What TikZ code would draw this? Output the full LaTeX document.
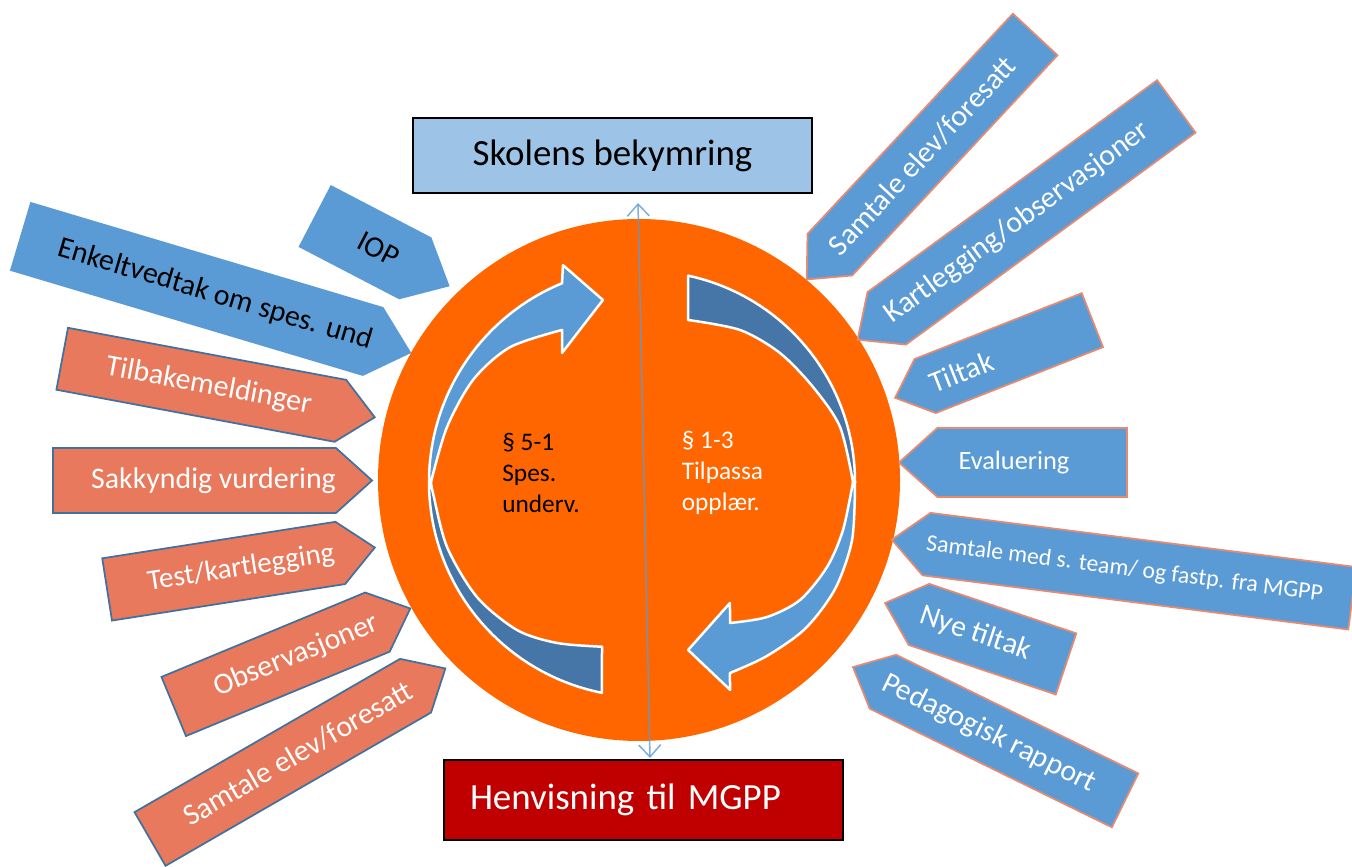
\documentclass[tikz,border=0pt]{standalone}
\usepackage{fontspec}
\setmainfont{Carlito}
\usetikzlibrary{arrows.meta,positioning,calc,shapes.symbols}
\definecolor{ringorange}{HTML}{FF6600}
\definecolor{lightblue}{HTML}{5B9BD5}
\definecolor{darkblue}{HTML}{4675A8}
\definecolor{edgeblue}{HTML}{41719C}
\definecolor{salmon}{HTML}{E8795D}
\definecolor{salmonline}{HTML}{E58B74}
\definecolor{skyfill}{HTML}{9DC3E6}
\definecolor{redfill}{HTML}{C00000}

\begin{document}
\begin{tikzpicture}[x=0.2mm,y=0.2mm,>={Straight Barb[length=2.4mm,width=4.4mm]},
  tag/.style={shape=signal,signal pointer angle=84,inner sep=0pt,line width=0.35mm,font=\fontsize{17}{20}\selectfont},
  lefttag/.style={tag,signal to=east,fill=salmon,draw=edgeblue,text=white},
  bluetag/.style={tag,signal to=east,fill=lightblue,draw=lightblue,text=black},
  righttag/.style={tag,signal to=west,fill=lightblue,draw=salmonline,text=white},
  headbox/.style={draw=black,line width=0.5mm,minimum width=79.8mm,minimum height=15mm,font=\fontsize{21}{25}\selectfont},
  ringtext/.style={align=left,font=\fontsize{14.4}{17.5}\selectfont}]
\useasboundingbox (0,0) rectangle (1352,867);

\node[circle,fill=ringorange,minimum size=104.4mm,inner sep=0pt] (ring) at (639,387) {};
\node[headbox,fill=skyfill] (worry) at (612.5,711.5) {Skolens bekymring};
\node[headbox,fill=redfill,text=white,minimum height=16mm,text width=69.4mm,inner xsep=5mm,align=left] (refer) at (643.5,67) {Henvisning til MGPP};

\coordinate (up) at (638,664);
\coordinate (down) at (650,109);
\draw[<->,draw=lightblue,draw opacity=0.8,line width=0.3mm] (up) -- (down);

\begin{scope}[shift={(644,385)},draw=white,line width=0.5mm,line join=round]
\filldraw[fill=lightblue] (118.3:172.7) -- (122.4:152.9) -- (102.7:186.6) -- (110.5:231.6) -- (112.4:215)
  arc[start angle=112.4,end angle=180,radius=215]
  -- plot[smooth] coordinates {(180:213) (164.4:204.5) (149:199) (134.8:190) (118.3:172.7)} -- cycle;
\filldraw[fill=darkblue] (180:215) arc[start angle=180,end angle=258.7,radius=215] -- (255.7:170)
  -- plot[smooth] coordinates {(255.7:170) (241.6:183) (229.4:195) (214.6:202.8) (198.3:207.4) (183:211.3) (180:213)} -- cycle;
\filldraw[fill=darkblue] (77.9:211) arc[start angle=77.9,end angle=0,radius=211]
  -- plot[smooth] coordinates {(0:209) (15.7:203.6) (29.3:193.9) (43.5:187.4) (57.7:179.8) (74.8:167.9)} -- cycle;
\filldraw[fill=lightblue] plot[smooth] coordinates {(0:211) (-15.5:216) (-29.2:219) (-42.2:218) (-54.9:213) (-65.8:209.5)}
  -- (-67.5:225) -- (-75.3:173.7) -- (-54.6:148.4) -- (-58.6:165.2)
  -- plot[smooth] coordinates {(-58.6:165.2) (-47.7:182.6) (-37.1:195.6) (-24.9:201.8) (-13.6:204.7) (0:209)} -- cycle;
\end{scope}

\node[ringtext] (spes) at (541,394) {§ 5-1\\Spes.\\underv.};
\node[ringtext,text=white] (tilpassa) at (722.5,394) {§ 1-3\\Tilpassa\\opplær.};

\node[bluetag,rotate=-27.5,minimum width=30mm,minimum height=13.6mm] (iop) at (365.2,624.7) {\hspace*{6mm}IOP};
\node[bluetag,rotate=-16.6,minimum width=81.2mm,minimum height=14mm] (vedtak) at (196.9,578) {\hspace*{7.8mm}Enkeltvedtak om spes. und};
\node[lefttag,rotate=-10.6,minimum width=63.6mm,minimum height=12.6mm] (tilbake) at (201.3,482.2) {\hspace*{3mm}Tilbakemeldinger};
\node[lefttag,minimum width=63.8mm,minimum height=13mm] (sakkyndig) at (194.5,386.5) {\hspace*{7.6mm}Sakkyndig vurdering};
\node[lefttag,rotate=8.9,minimum width=54.2mm,minimum height=12.6mm,font=\fontsize{16.5}{20}\selectfont] (test) at (223.7,295.8) {\hspace*{7mm}Test/kartlegging};
\node[lefttag,rotate=22.5,minimum width=48mm,minimum height=12.8mm] (obs) at (275.6,202.7) {\hspace*{9mm}Observasjoner};
\node[lefttag,rotate=30,minimum width=68.2mm,minimum height=12.4mm] (samtaleL) at (282.8,104.65) {\hspace*{7mm}Samtale elev/foresatt};

\node[righttag,rotate=47,minimum width=67mm,minimum height=12.2mm] (samtaleR) at (932.5,722.4) {Samtale elev/foresatt\hspace*{6mm}};
\node[righttag,rotate=36.2,minimum width=79mm,minimum height=13mm] (kartlegging) at (1031.5,654.6) {Kartlegging/observasjoner\hspace*{7mm}};
\node[righttag,rotate=21.5,minimum width=42.4mm,minimum height=11.6mm] (tiltak) at (1008.75,513.9) {Tiltak\hspace*{20.4mm}};
\node[righttag,minimum width=45.6mm,minimum height=13.8mm,font=\fontsize{15}{18}\selectfont] (eval) at (1032.2,404.5) {Evaluering\hspace*{7.3mm}};
\node[righttag,rotate=-7.25,minimum width=92.8mm,minimum height=12.6mm,font=\fontsize{13.5}{16}\selectfont] (team) at (1139.4,295.8) {Samtale med s. team/ og fastp. fra MGPP\hspace*{6mm}};
\node[righttag,rotate=-18.6,minimum width=38.2mm,minimum height=12.9mm] (nye) at (992.5,227.8) {Nye tiltak\hspace*{7.2mm}};
\node[righttag,rotate=-26.1,minimum width=60.6mm,minimum height=12mm] (rapport) at (1004,125.95) {Pedagogisk rapport\hspace*{6.7mm}};
\end{tikzpicture}
\end{document}
